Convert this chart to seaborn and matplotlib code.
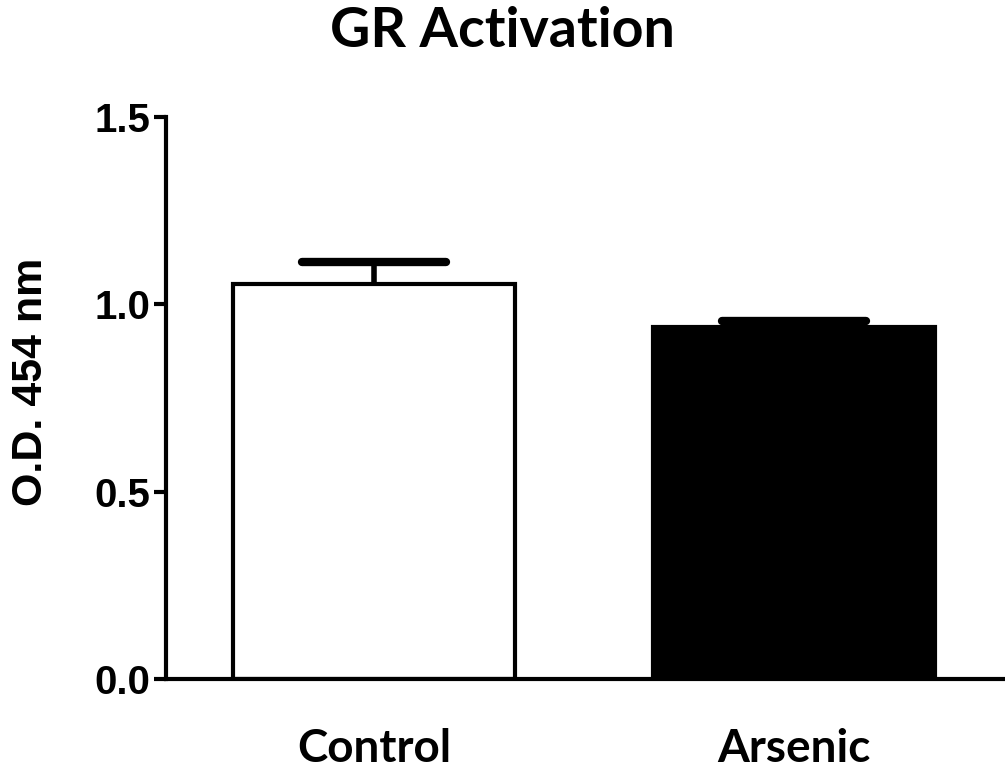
import numpy as np
import pandas as pd
import matplotlib
matplotlib.use("Agg")
import matplotlib.pyplot as plt
import seaborn as sns

# data
groups = ["Control", "Arsenic"]
means = [1.054, 0.939]
sem_upper = [0.059, 0.016]
bar_colors = ["#ffffff", "#000000"]

sns.set_style("ticks")
plt.rcParams["font.family"] = ["Liberation Sans", "DejaVu Sans"]
plt.rcParams["text.color"] = "black"
plt.rcParams["axes.labelcolor"] = "black"
plt.rcParams["xtick.color"] = "black"
plt.rcParams["ytick.color"] = "black"
plt.rcParams["axes.edgecolor"] = "black"

df = pd.DataFrame({"group": groups, "od": means})

fig = plt.figure(figsize=(10.05, 7.75), dpi=100)
ax = fig.add_axes([166 / 1005, 96 / 775, 1 - 166 / 1005, 562 / 775])

sns.barplot(
    data=df, x="group", y="od", hue="group", order=groups,
    palette=bar_colors, edgecolor="black", linewidth=3, width=0.67,
    legend=False, errorbar=None, ax=ax, zorder=2,
)

# upper-only error bars (mean + SEM)
xpos = np.arange(len(groups))
tops = np.array(means) + np.array(sem_upper)
ax.vlines(xpos, np.array(means) - 0.01, tops, color="black", linewidth=4, zorder=1)
ax.hlines(tops, xpos - 0.172, xpos + 0.172, color="black", linewidth=6,
          capstyle="round", zorder=1)

ax.set_ylim(0, 1.5)
ax.set_xlim(-0.495, 1.502)
ax.set_yticks([0.0, 0.5, 1.0, 1.5])
ax.set_yticklabels(["0.0", "0.5", "1.0", "1.5"], fontsize=29, fontweight="bold")
ax.set_xticks(xpos)
ax.set_xticklabels(groups, fontsize=33, fontweight="bold", family=["Lato", "DejaVu Sans"])
ax.tick_params(axis="y", length=9, width=3, pad=2)
ax.tick_params(axis="x", length=0, pad=35)
ax.set_xlabel("")
ax.set_ylabel("O.D. 454 nm", fontsize=31, fontweight="bold")
ax.yaxis.set_label_coords(-0.137, 0.528)

for side in ["top", "right"]:
    ax.spines[side].set_visible(False)
for side in ["left", "bottom"]:
    ax.spines[side].set_linewidth(3)

fig.suptitle("GR Activation", x=0.5, y=1 - 31 / 775, va="center",
             fontsize=40, fontweight="bold", family=["Lato", "DejaVu Sans"])

fig.savefig("out.png", dpi=100)
